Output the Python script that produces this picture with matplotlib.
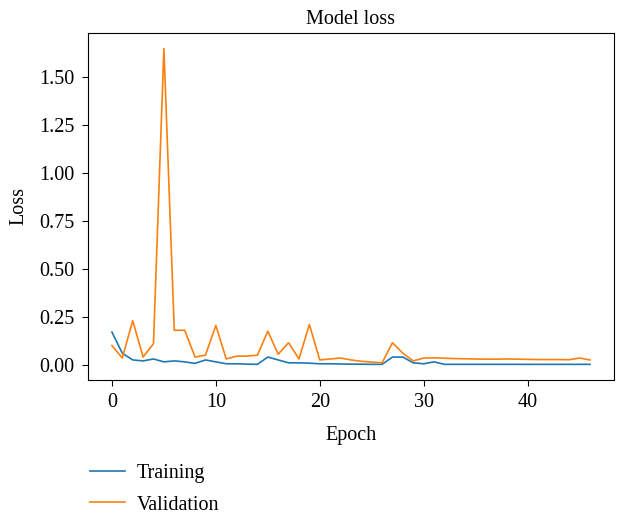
import matplotlib
matplotlib.use("Agg")
import matplotlib.pyplot as plt

plt.rcParams['font.family'] = ['Liberation Serif', 'DejaVu Serif']

# loss per epoch
train_loss = [0.17, 0.06, 0.025, 0.02, 0.03, 0.015, 0.02, 0.015, 0.007, 0.025,
              0.015, 0.005, 0.005, 0.003, 0.002, 0.04, 0.025, 0.01, 0.01, 0.008,
              0.005, 0.005, 0.004, 0.003, 0.003, 0.002, 0.002, 0.04, 0.04, 0.01,
              0.005, 0.015, 0.002, 0.002, 0.002, 0.002, 0.002, 0.002, 0.002, 0.002,
              0.002, 0.002, 0.002, 0.002, 0.002, 0.002, 0.002]
val_loss = [0.10, 0.035, 0.23, 0.04, 0.11, 1.65, 0.18, 0.18, 0.04, 0.05,
            0.205, 0.03, 0.045, 0.045, 0.05, 0.175, 0.055, 0.115, 0.03, 0.21,
            0.025, 0.03, 0.035, 0.025, 0.018, 0.014, 0.01, 0.115, 0.06, 0.02,
            0.035, 0.036, 0.034, 0.032, 0.031, 0.030, 0.029, 0.029, 0.030, 0.029,
            0.028, 0.027, 0.027, 0.027, 0.026, 0.035, 0.025]
epochs = list(range(len(val_loss)))

fig = plt.figure(figsize=(6.2, 5.13), dpi=100)
ax = fig.add_axes([0.142, 0.259, 0.848, 0.677])

ax.plot(epochs, train_loss, color='tab:blue', lw=1.2, label='Training')
ax.plot(epochs, val_loss, color='tab:orange', lw=1.2, label='Validation')

fs = 14.5
ax.set_title('Model loss', fontsize=fs, pad=6)
ax.set_xlabel('Epoch', fontsize=fs, labelpad=10)
ax.set_ylabel('Loss', fontsize=fs, labelpad=8)
ax.tick_params(labelsize=fs, length=4.5, pad=5)
ax.set_yticks([0, 0.25, 0.5, 0.75, 1.0, 1.25, 1.5])

ax.legend(loc='upper left', bbox_to_anchor=(-0.03, -0.19), frameon=False,
          fontsize=fs, handlelength=1.7, handletextpad=0.6, labelspacing=0.6)

fig.savefig('out.png', dpi=100)
